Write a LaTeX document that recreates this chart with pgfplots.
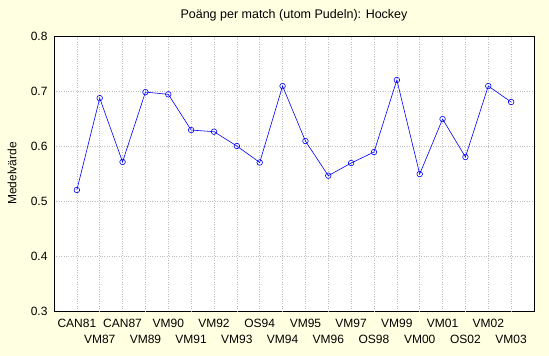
\documentclass[border=0pt]{standalone}
\usepackage{fontspec}
\setmainfont{Liberation Sans}
\usepackage{pgfplots}
\pgfplotsset{compat=1.18}
\definecolor{bgyellow}{RGB}{255,255,225}
\definecolor{gridgray}{RGB}{190,190,190}
\begin{document}
\begin{tikzpicture}[x=1pt,y=1pt]
\fill[bgyellow] (-54,-45) rectangle (495,311);
\begin{axis}[
  at={(0,0)}, anchor=south west,
  scale only axis, width=480pt, height=275pt,
  xmin=-1, xmax=20, ymin=0.3, ymax=0.8,
  axis background/.style={fill=white},
  axis line style={black, line width=0.8pt},
  xtick={0,2,...,18},
  xticklabels={CAN81,CAN87,VM90,VM92,OS94,VM95,VM97,VM99,VM01,VM02},
  extra x ticks={1,3,...,19},
  extra x tick labels={VM87,VM89,VM91,VM93,VM94,VM96,OS98,VM00,OS02,VM03},
  extra x tick style={xticklabel style={yshift=-16pt}},
  xticklabel style={font=\fontsize{12}{14}\selectfont, yshift=-5pt},
  ytick={0.3,0.4,0.5,0.6,0.7,0.8},
  yticklabel style={font=\fontsize{12}{14}\selectfont, xshift=-3pt},
  /pgf/number format/assume math mode=true,
  /pgf/number format/fixed, /pgf/number format/fixed zerofill, /pgf/number format/precision=1,
  major tick length=0pt,
  grid=major,
  major grid style={gridgray, dotted, line width=0.6pt},
  title={Poäng per match (utom Pudeln): Hockey},
  title style={at={(axis description cs:0.5,1)}, anchor=center, yshift=15pt, font=\fontsize{12.5}{14}\selectfont},
  ylabel={Medelvärde},
  ylabel style={at={(axis description cs:-0.0875,0.5)}, anchor=center, font=\fontsize{12}{14}\selectfont},
]
\addplot[blue, line width=0.6pt, mark=o, mark size=2.8pt, mark options={fill=white, solid}] coordinates {
(0,0.520) (1,0.687) (2,0.571) (3,0.698) (4,0.694) (5,0.629) (6,0.626) (7,0.600)
(8,0.570) (9,0.709) (10,0.609) (11,0.546) (12,0.569) (13,0.589) (14,0.720)
(15,0.549) (16,0.649) (17,0.580) (18,0.709) (19,0.680)
};
\end{axis}
\end{tikzpicture}
\end{document}
